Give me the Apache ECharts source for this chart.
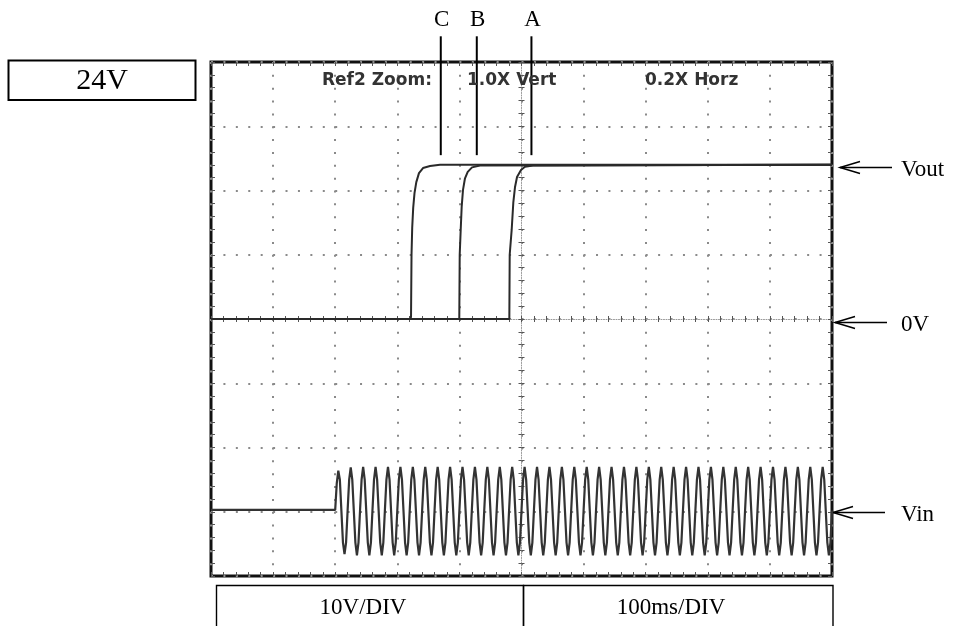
<!DOCTYPE html>
<html>

<head>
    <meta charset="utf-8" />
    <title>Vout / Vin</title>
    <script src="https://cdn.jsdelivr.net/npm/echarts/dist/echarts.min.js"></script>
    <style>
        body { margin: 0; background: #fff; }
        #main { width: 955px; height: 626px; }
    </style>
</head>

<body>
    <div id="main"></div>
    <script type="text/javascript">
        // time in ms (100ms/DIV), voltage in V (10V/DIV)
        var timeRange = [0, 1000];
        var voltRange = [-40, 40];
        var scaleLabels = ['10V/DIV', '100ms/DIV'];
        var supplyLabel = '24V';
        var zoomTexts = ['Ref2 Zoom:', '1.0X Vert', '0.2X Horz'];

        // Vout traces, [ms, V]
        var voutA = [[0, 0], [480.4, 0], [481.0, 10.0], [484.2, 13.9], [486.8, 18.1], [489.5, 20.5],
            [492.8, 22.1], [499.2, 23.2], [505.6, 23.7], [518.5, 23.9], [1000, 24.0]];
        var voutB = [[0, 0], [399.8, 0], [400.5, 10.0], [402.1, 13.9], [403.7, 17.5], [405.8, 20.1],
            [409.0, 21.9], [413.4, 22.9], [420.3, 23.6], [433.2, 23.9], [1000, 24.0]];
        var voutC = [[0, 0], [321.5, 0], [322.1, 0.4], [322.9, 10.0], [324.0, 14.2], [325.6, 17.3],
            [327.7, 19.6], [330.6, 21.3], [334.9, 22.7], [341.4, 23.5], [352.7, 23.8], [368.8, 24.0], [1000, 24.0]];

        // Vin: flat until the AC switches on, then samples every 2.5 ms
        var vinFlat = [[0, -29.7], [200, -29.7]];
        var vinStart = 200;
        var vinStep = 2.5;
        var vinSamples = [
            -29.7, -25.6, -23.6, -25.0, -29.9, -34.8, -36.6, -34.8,
            -29.8, -25.0, -23.1, -25.0, -29.9, -34.8, -36.8, -34.8,
            -29.8, -25.0, -23.0, -25.0, -29.9, -34.8, -36.8, -34.8,
            -29.8, -25.0, -23.0, -25.0, -29.9, -34.8, -36.8, -34.8,
            -29.8, -25.0, -23.0, -25.0, -29.9, -34.8, -36.8, -34.8,
            -29.8, -25.0, -23.0, -25.0, -29.9, -34.8, -36.8, -34.8,
            -29.8, -25.0, -23.0, -25.0, -29.9, -34.8, -36.8, -34.8,
            -29.8, -25.0, -23.0, -25.0, -29.9, -34.8, -36.8, -34.8,
            -29.8, -25.0, -23.0, -25.0, -29.9, -34.8, -36.8, -34.8,
            -29.8, -25.0, -23.0, -25.0, -29.9, -34.8, -36.8, -34.8,
            -29.8, -25.0, -23.0, -25.0, -29.9, -34.8, -36.8, -34.8,
            -29.8, -25.0, -23.0, -25.0, -29.9, -34.8, -36.8, -34.8,
            -29.8, -25.0, -23.0, -25.0, -29.9, -34.8, -36.8, -34.8,
            -29.8, -25.0, -23.0, -25.0, -29.9, -34.8, -36.8, -34.8,
            -29.8, -25.0, -23.0, -25.0, -29.9, -34.8, -36.8, -34.8,
            -29.8, -25.0, -23.0, -25.0, -29.9, -34.8, -36.8, -34.8,
            -29.8, -25.0, -23.0, -25.0, -29.9, -34.8, -36.8, -34.8,
            -29.8, -25.0, -23.0, -25.0, -29.9, -34.8, -36.8, -34.8,
            -29.8, -25.0, -23.0, -25.0, -29.9, -34.8, -36.8, -34.8,
            -29.8, -25.0, -23.0, -25.0, -29.9, -34.8, -36.8, -34.8,
            -29.8, -25.0, -23.0, -25.0, -29.9, -34.8, -36.8, -34.8,
            -29.8, -25.0, -23.0, -25.0, -29.9, -34.8, -36.8, -34.8,
            -29.8, -25.0, -23.0, -25.0, -29.9, -34.8, -36.8, -34.8,
            -29.8, -25.0, -23.0, -25.0, -29.9, -34.8, -36.8, -34.8,
            -29.8, -25.0, -23.0, -25.0, -29.9, -34.8, -36.8, -34.8,
            -29.8, -25.0, -23.0, -25.0, -29.9, -34.8, -36.8, -34.8,
            -29.8, -25.0, -23.0, -25.0, -29.9, -34.8, -36.8, -34.8,
            -29.8, -25.0, -23.0, -25.0, -29.9, -34.8, -36.8, -34.8,
            -29.8, -25.0, -23.0, -25.0, -29.9, -34.8, -36.8, -34.8,
            -29.8, -25.0, -23.0, -25.0, -29.9, -34.8, -36.8, -34.8,
            -29.8, -25.0, -23.0, -25.0, -29.9, -34.8, -36.8, -34.8,
            -29.8, -25.0, -23.0, -25.0, -29.9, -34.8, -36.8, -34.8,
            -29.8, -25.0, -23.0, -25.0, -29.9, -34.8, -36.8, -34.8,
            -29.8, -25.0, -23.0, -25.0, -29.9, -34.8, -36.8, -34.8,
            -29.8, -25.0, -23.0, -25.0, -29.9, -34.8, -36.8, -34.8,
            -29.8, -25.0, -23.0, -25.0, -29.9, -34.8, -36.8, -34.8,
            -29.8, -25.0, -23.0, -25.0, -29.9, -34.8, -36.8, -34.8,
            -29.8, -25.0, -23.0, -25.0, -29.9, -34.8, -36.8, -34.8,
            -29.8, -25.0, -23.0, -25.0, -29.9, -34.8, -36.8, -34.8,
            -29.8, -25.0, -23.0, -25.0, -29.9, -34.8, -36.8, -34.8,
            -29.8
        ];

        // markers above the plot (A, B, C) and level arrows on the right
        var markerNames = ['A', 'B', 'C'];
        var markerTimes = [516, 428, 370];
        var levelNames = ['Vout', '0V', 'Vin'];
        var levelValues = [23.6, -0.4, -30.0];

        var vin = vinFlat.concat(vinSamples.map(function (v, i) {
            return [vinStart + i * vinStep, v];
        }));

        var chart = echarts.init(document.getElementById('main'));

        var tickStyle = { color: '#555', width: 1 };
        function tickAxis(extra) {
            var base = {
                axisLabel: { show: false },
                splitLine: { show: false },
                axisLine: { show: false, onZero: false },
                axisTick: { show: true, inside: true, length: 4, lineStyle: tickStyle }
            };
            return Object.assign(base, extra);
        }

        var option = {
            animation: false,
            grid: {
                left: 211, top: 62, width: 621, height: 514,
                show: true, borderColor: '#111', borderWidth: 3
            },
            xAxis: [
                {
                    type: 'value', min: timeRange[0], max: timeRange[1], interval: 100,
                    axisLabel: { show: false }, axisTick: { show: false },
                    axisLine: { show: false, onZero: false },
                    splitLine: { show: true, lineStyle: { color: '#8a8a8a', width: 2, type: [2, 10.85] } }
                },
                tickAxis({ type: 'value', min: timeRange[0], max: timeRange[1], interval: 20, position: 'bottom' }),
                tickAxis({ type: 'value', min: timeRange[0], max: timeRange[1], interval: 20, position: 'top' }),
                tickAxis({
                    type: 'value', min: timeRange[0], max: timeRange[1], interval: 20, position: 'bottom',
                    axisLine: { show: true, onZero: true, onZeroAxisIndex: 0, lineStyle: { color: '#999', width: 1, type: [1, 1.5] } },
                    axisTick: { show: true, inside: true, length: 3, lineStyle: tickStyle }
                }),
                tickAxis({
                    type: 'value', min: timeRange[0], max: timeRange[1], interval: 20, position: 'top',
                    axisLine: { show: false, onZero: true, onZeroAxisIndex: 0 },
                    axisTick: { show: true, inside: true, length: 3, lineStyle: tickStyle }
                }),
                // helper axis centred on zero, used to put the vertical centre line in the middle
                { type: 'value', min: -500, max: 500, show: false, axisLine: { onZero: false } }
            ],
            yAxis: [
                {
                    type: 'value', min: voltRange[0], max: voltRange[1], interval: 10,
                    axisLabel: { show: false }, axisTick: { show: false },
                    axisLine: { show: false, onZero: false },
                    splitLine: { show: true, lineStyle: { color: '#8a8a8a', width: 2, type: [2, 10.42] } }
                },
                tickAxis({ type: 'value', min: voltRange[0], max: voltRange[1], interval: 2, position: 'left' }),
                tickAxis({ type: 'value', min: voltRange[0], max: voltRange[1], interval: 2, position: 'right' }),
                tickAxis({
                    type: 'value', min: voltRange[0], max: voltRange[1], interval: 2, position: 'left',
                    axisLine: { show: true, onZero: true, onZeroAxisIndex: 5, lineStyle: { color: '#999', width: 1, type: [1, 1.5] } },
                    axisTick: { show: true, inside: true, length: 3, lineStyle: tickStyle }
                }),
                tickAxis({
                    type: 'value', min: voltRange[0], max: voltRange[1], interval: 2, position: 'right',
                    axisLine: { show: false, onZero: true, onZeroAxisIndex: 5 },
                    axisTick: { show: true, inside: true, length: 3, lineStyle: tickStyle }
                })
            ],
            series: [
                { name: 'Vin', type: 'line', data: vin, showSymbol: false, lineStyle: { color: '#333', width: 2.2 } },
                { name: 'Vout A', type: 'line', data: voutA, showSymbol: false, lineStyle: { color: '#2a2a2a', width: 2 } },
                { name: 'Vout B', type: 'line', data: voutB, showSymbol: false, lineStyle: { color: '#2a2a2a', width: 2 } },
                { name: 'Vout C', type: 'line', data: voutC, showSymbol: false, lineStyle: { color: '#2a2a2a', width: 2 } }
            ]
        };
        chart.setOption(option);

        // annotations placed through the chart's own scales
        function px(t, v) {
            return chart.convertToPixel({ seriesIndex: 0 }, [t, v]);
        }
        var serif = '"Liberation Serif", "Times New Roman", serif';
        var g = [];

        markerNames.forEach(function (name, i) {
            var top = px(markerTimes[i], 44.0);
            var bottom = px(markerTimes[i], 25.5);
            var letter = px(markerTimes[i], 46.5);
            g.push({ type: 'line', shape: { x1: top[0], y1: top[1], x2: bottom[0], y2: bottom[1] }, style: { stroke: '#000', lineWidth: 2 } });
            g.push({ type: 'text', x: letter[0] + 1, y: letter[1], style: { text: name, font: '23px ' + serif, fill: '#000', align: 'center', verticalAlign: 'middle' } });
        });

        var arrowTips = [840, 835, 833];
        levelNames.forEach(function (name, i) {
            var y = Math.round(px(0, levelValues[i])[1]) + 0.5;
            var tip = arrowTips[i];
            g.push({ type: 'line', shape: { x1: tip, y1: y, x2: tip + 52, y2: y }, style: { stroke: '#000', lineWidth: 1.5 } });
            g.push({ type: 'polyline', shape: { points: [[tip + 20, y - 6], [tip, y], [tip + 20, y + 6]] }, style: { stroke: '#000', lineWidth: 1.5, fill: null } });
            g.push({ type: 'text', x: 901, y: y + 2, style: { text: name, font: '23px ' + serif, fill: '#000', align: 'left', verticalAlign: 'middle' } });
        });

        // zoom read-out inside the screen
        var zoomX = [322, 467, 645];
        zoomTexts.forEach(function (t, i) {
            g.push({ type: 'text', x: zoomX[i], y: 81, z: 10, style: { text: t, font: 'bold 17px "DejaVu Sans", sans-serif', fill: '#333', verticalAlign: 'middle' } });
        });

        // boxed labels
        g.push({ type: 'rect', shape: { x: 8.5, y: 60.5, width: 187, height: 39.5 }, style: { stroke: '#000', lineWidth: 2, fill: null } });
        g.push({ type: 'text', x: 102, y: 81, style: { text: supplyLabel, font: '30px ' + serif, fill: '#000', align: 'center', verticalAlign: 'middle' } });
        g.push({ type: 'rect', shape: { x: 216.5, y: 585.5, width: 307, height: 60 }, style: { stroke: '#000', lineWidth: 1.4, fill: null } });
        g.push({ type: 'rect', shape: { x: 523.5, y: 585.5, width: 309.5, height: 60 }, style: { stroke: '#000', lineWidth: 1.4, fill: null } });
        g.push({ type: 'text', x: 363, y: 608, style: { text: scaleLabels[0], font: '23px ' + serif, fill: '#000', align: 'center', verticalAlign: 'middle' } });
        g.push({ type: 'text', x: 671, y: 608, style: { text: scaleLabels[1], font: '23px ' + serif, fill: '#000', align: 'center', verticalAlign: 'middle' } });

        chart.setOption({ graphic: g });
    </script>
</body>

</html>
